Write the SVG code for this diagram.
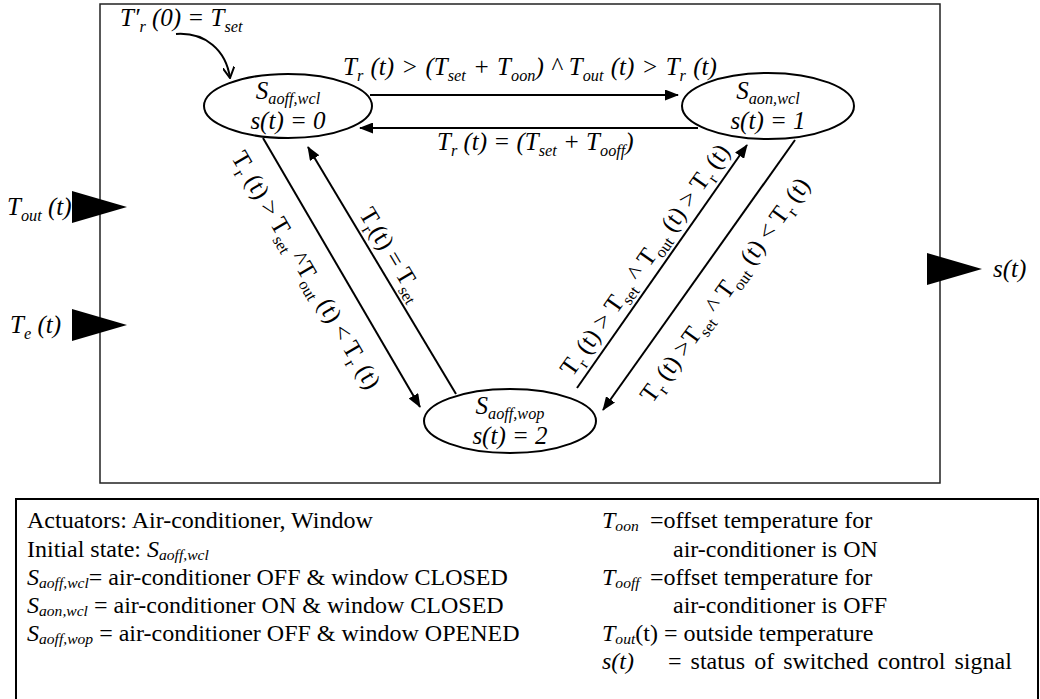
<svg xmlns="http://www.w3.org/2000/svg" width="1040" height="699" viewBox="0 0 1040 699">
<style>
.t{font-family:"Liberation Serif",Tinos,"Times New Roman",serif;fill:#000}
.i{font-style:italic}
.d{font-size:25px}
.lg{font-size:24px}
.s{font-size:65%}
.node{fill:#fff;stroke:#000;stroke-width:2}
.conn{fill:none;stroke:#000;stroke-width:2}
</style>
<defs>
<marker id="ah" viewBox="0 0 14 11" markerWidth="14" markerHeight="11" refX="13" refY="5.5" orient="auto" markerUnits="userSpaceOnUse"><path d="M0,0 L14,5.5 L0,11 z" fill="#000"/></marker>
<marker id="av" viewBox="0 0 12 12" markerWidth="12" markerHeight="12" refX="11" refY="6" orient="auto" markerUnits="userSpaceOnUse"><path d="M0,0 L11,6 L0,12" fill="none" stroke="#000" stroke-width="2"/></marker>
</defs>
<rect width="1040" height="699" fill="#fff"/>
<rect id="frame" x="100" y="4" width="840" height="479" fill="none" stroke="#222" stroke-width="1.5"/>

<g id="connectors">
<path class="conn" d="M176,34 C205,32 226,50 230,78" marker-end="url(#av)"/>
<path class="conn" d="M370,95 L678,95" marker-end="url(#ah)"/>
<path class="conn" d="M698,128 L360,128" marker-end="url(#ah)"/>
<path class="conn" d="M263,138 L420,407" marker-end="url(#ah)"/>
<path class="conn" d="M456,394 L308,147" marker-end="url(#ah)"/>
<path class="conn" d="M577,388 L747,145" marker-end="url(#ah)"/>
<path class="conn" d="M795,140 L603,410" marker-end="url(#ah)"/>
</g>

<g id="labels">
<text class="t i d" x="120" y="26">T′<tspan class="s" dy="6">r</tspan><tspan dy="-6"> (0) = T</tspan><tspan class="s" dy="6">set</tspan></text>
<text class="t i d" x="343" y="75" word-spacing="1">T<tspan class="s" dy="6">r</tspan><tspan dy="-6"> (t) &gt; (T</tspan><tspan class="s" dy="6">set</tspan><tspan dy="-6"> + T</tspan><tspan class="s" dy="6">oon</tspan><tspan dy="-6">) ^ T</tspan><tspan class="s" dy="6">out</tspan><tspan dy="-6"> (t) &gt; T</tspan><tspan class="s" dy="6">r</tspan><tspan dy="-6"> (t)</tspan></text>
<text class="t i d" x="437" y="150">T<tspan class="s" dy="6">r</tspan><tspan dy="-6"> (t) = (T</tspan><tspan class="s" dy="6">set</tspan><tspan dy="-6"> + T</tspan><tspan class="s" dy="6">ooff</tspan><tspan dy="-6">)</tspan></text>
<g transform="translate(306,270) rotate(59.7)"><text class="t d" x="0" y="8" text-anchor="middle">T<tspan class="s" dy="6">r</tspan><tspan dy="-6"> (t) &gt; T</tspan><tspan class="s" dy="6">set</tspan><tspan dy="-6">   ^T</tspan><tspan class="s" dy="6">out</tspan><tspan dy="-6"> (t) &lt; T</tspan><tspan class="s" dy="6">r</tspan><tspan dy="-6"> (t)</tspan></text></g>
<g transform="translate(392,254) rotate(59)"><text class="t d" x="0" y="8" text-anchor="middle">T<tspan class="s" dy="6">r</tspan><tspan dy="-6">(t) = T</tspan><tspan class="s" dy="6">set</tspan></text></g>
<g transform="translate(645,260) rotate(-55)"><text class="t d" x="0" y="8" text-anchor="middle">T<tspan class="s" dy="6">r</tspan><tspan dy="-6"> (t) &gt; T</tspan><tspan class="s" dy="6">set</tspan><tspan dy="-6">   ^ T</tspan><tspan class="s" dy="6">out</tspan><tspan dy="-6"> (t) &gt; T</tspan><tspan class="s" dy="6">r</tspan><tspan dy="-6"> (t)</tspan></text></g>
<g transform="translate(725,290) rotate(-54)"><text class="t d" x="0" y="8" text-anchor="middle">T<tspan class="s" dy="6">r</tspan><tspan dy="-6"> (t) &gt;T</tspan><tspan class="s" dy="6">set</tspan><tspan dy="-6">   ^ T</tspan><tspan class="s" dy="6">out</tspan><tspan dy="-6"> (t) &lt; T</tspan><tspan class="s" dy="6">r</tspan><tspan dy="-6"> (t)</tspan></text></g>
</g>

<g id="node-aoff-wcl">
<ellipse class="node" cx="288" cy="106" rx="84" ry="32"/>
<text class="t i d" x="288" y="99" text-anchor="middle">S<tspan class="s" dy="5">aoff,wcl</tspan></text>
<text class="t i d" x="288" y="129" text-anchor="middle">s(t) = 0</text>
</g>
<g id="node-aon-wcl">
<ellipse class="node" cx="768" cy="106" rx="86" ry="33"/>
<text class="t i d" x="768" y="99" text-anchor="middle">S<tspan class="s" dy="5">aon,wcl</tspan></text>
<text class="t i d" x="768" y="129" text-anchor="middle">s(t) = 1</text>
</g>
<g id="node-aoff-wop">
<ellipse class="node" cx="510" cy="421" rx="86" ry="32"/>
<text class="t i d" x="510" y="414" text-anchor="middle">S<tspan class="s" dy="5">aoff,wop</tspan></text>
<text class="t i d" x="510" y="444" text-anchor="middle">s(t) = 2</text>
</g>

<g id="input-tout">
<polygon points="72,191 72,223 127,207" fill="#000"/>
<text class="t i d" x="7" y="215">T<tspan class="s" dy="6">out</tspan><tspan dy="-6"> (t)</tspan></text>
</g>
<g id="input-te">
<polygon points="72,309 72,341 127,325" fill="#000"/>
<text class="t i d" x="10" y="333">T<tspan class="s" dy="6">e</tspan><tspan dy="-6"> (t)</tspan></text>
</g>
<g id="output-s">
<polygon points="927,253 927,285 982,269" fill="#000"/>
<text class="t i d" x="993" y="277">s(t)</text>
</g>

<g id="legend">
<rect x="16" y="499" width="1022" height="215" fill="none" stroke="#000" stroke-width="2"/>
<text class="t lg" x="27" y="528">Actuators: Air-conditioner, Window</text>
<text class="t lg" x="27" y="557">Initial state: <tspan class="i">S</tspan><tspan class="i s" dy="3">aoff,wcl</tspan></text>
<text class="t lg" x="27" y="585"><tspan class="i">S</tspan><tspan class="i s" dy="3">aoff,wcl</tspan><tspan dy="-3">= air-conditioner OFF &amp; window CLOSED</tspan></text>
<text class="t lg" x="27" y="613"><tspan class="i">S</tspan><tspan class="i s" dy="3">aon,wcl</tspan><tspan dy="-3"> = air-conditioner ON &amp; window CLOSED</tspan></text>
<text class="t lg" x="27" y="641"><tspan class="i">S</tspan><tspan class="i s" dy="3">aoff,wop</tspan><tspan dy="-3"> = air-conditioner OFF &amp; window OPENED</tspan></text>
<text class="t lg i" x="602" y="528">T<tspan class="s" dy="3">oon</tspan></text>
<text class="t lg" x="650" y="528">=offset temperature for</text>
<text class="t lg" x="673" y="557">air-conditioner is ON</text>
<text class="t lg i" x="602" y="585">T<tspan class="s" dy="3">ooff</tspan></text>
<text class="t lg" x="650" y="585">=offset temperature for</text>
<text class="t lg" x="673" y="613">air-conditioner is OFF</text>
<text class="t lg" x="602" y="641"><tspan class="i">T</tspan><tspan class="i s" dy="3">out</tspan><tspan dy="-3">(t) = outside temperature</tspan></text>
<text class="t lg i" x="602" y="669">s(t)</text>
<text class="t lg" x="668" y="669" word-spacing="3">= status of switched control signal</text>
</g>
</svg>
